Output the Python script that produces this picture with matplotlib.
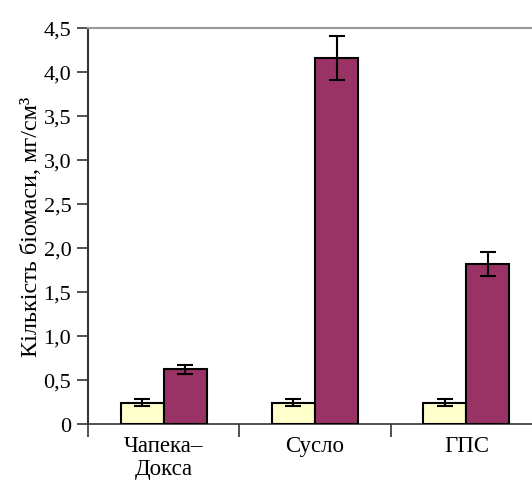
import numpy as np
import matplotlib
matplotlib.use("Agg")
import matplotlib.pyplot as plt

plt.rcParams['font.family'] = ['Liberation Serif', 'DejaVu Serif']

# Data
categories = ["Чапека–\nДокса", "Сусло", "ГПС"]
control = [0.24, 0.24, 0.24]
control_err = [0.04, 0.04, 0.04]
biomass = [0.62, 4.16, 1.82]
biomass_err = [0.05, 0.25, 0.14]
y_ticks = [0, 0.5, 1.0, 1.5, 2.0, 2.5, 3.0, 3.5, 4.0, 4.5]
y_tick_labels = ["0", "0,5", "1,0", "1,5", "2,0", "2,5", "3,0", "3,5", "4,0", "4,5"]

fig = plt.figure(figsize=(5.32, 4.81), dpi=100)
ax = fig.add_axes([88 / 532, 56 / 481, 454 / 532, 396 / 481])

x = np.arange(len(categories))
w = 0.285
err_style = dict(ecolor='black', elinewidth=1.5, capsize=5.5, capthick=1.5)
ax.bar(x - w / 2, control, w, yerr=control_err, color='#FFFFCC',
       edgecolor='black', linewidth=1.5, error_kw=err_style, zorder=3)
ax.bar(x + w / 2, biomass, w, yerr=biomass_err, color='#993366',
       edgecolor='black', linewidth=1.5, error_kw=err_style, zorder=3)

ax.set_xlim(-0.5, 2.5)
ax.set_ylim(0, 4.5)

# tick marks between groups, labels under the groups
ax.set_xticks([-0.5, 0.5, 1.5, 2.5])
ax.set_xticklabels([])
ax.set_xticks(x, minor=True)
ax.set_xticklabels(categories, minor=True, fontsize=16.5, linespacing=1.12)
ax.tick_params(axis='x', which='major', direction='out', length=9, width=1.2, color='#333333')
ax.tick_params(axis='x', which='minor', length=0, pad=8)

ax.set_yticks(y_ticks)
ax.set_yticklabels(y_tick_labels, fontsize=16)
ax.tick_params(axis='y', direction='out', length=8, width=1.2, color='#333333', pad=4)

ax.set_ylabel("Кількість біомаси, мг/см³", fontsize=17.5, labelpad=1)

ax.spines['right'].set_visible(False)
ax.spines['top'].set_color('#999999')
ax.spines['top'].set_linewidth(1.5)
ax.spines['left'].set_color('#333333')
ax.spines['left'].set_linewidth(1.5)
ax.spines['bottom'].set_color('#333333')
ax.spines['bottom'].set_linewidth(1.2)

fig.savefig("out.png", dpi=100)
